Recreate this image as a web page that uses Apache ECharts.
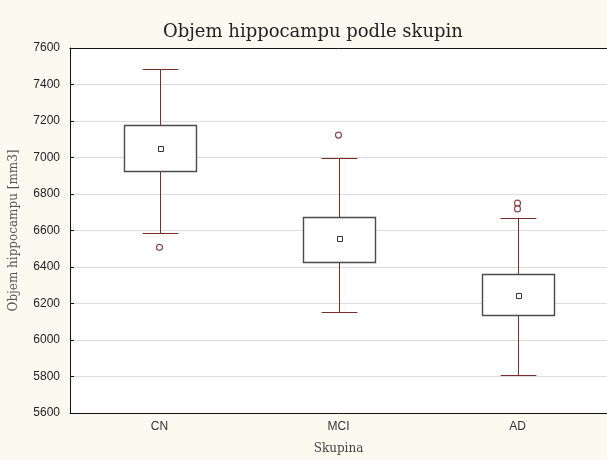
<!DOCTYPE html>
<html>
<head>
<meta charset="utf-8">
<script src="https://cdn.jsdelivr.net/npm/echarts@6/dist/echarts.min.js"></script>
<style>
  html, body { margin: 0; padding: 0; background: #fcf9f1; }
  #chart { width: 607px; height: 460px; }
</style>
</head>
<body>
<div id="chart"></div>
<script>
// Hippocampal volume per diagnostic group (mm3)
const categories = ['CN', 'MCI', 'AD'];
const whiskerLow = [6585, 6155, 5808];
const quartile1 = [6924, 6430, 6135];
const medians = [7045, 6556, 6242];
const quartile3 = [7178, 6674, 6360];
const whiskerHigh = [7486, 6998, 6670];
// outliers as [group index, value]
const outlierGroup = [0, 1, 2, 2];
const outlierValue = [6508, 7123, 6750, 6718];
const yTicks = [5600, 5800, 6000, 6200, 6400, 6600, 6800, 7000, 7200, 7400, 7600];

const boxData = categories.map((c, i) =>
  [i, whiskerLow[i], quartile1[i], medians[i], quartile3[i], whiskerHigh[i]]);
const outlierData = outlierGroup.map((g, i) => [g, outlierValue[i]]);

const boxColor = '#4a4a4a';
const whiskerColor = '#7a2b2b';

function renderBox(params, api) {
  const idx = api.value(0);
  const band = api.size([1, 0])[0];
  const boxW = band * 0.405;
  const capW = band * 0.2;
  const pLow = api.coord([idx, api.value(1)]);
  const pQ1 = api.coord([idx, api.value(2)]);
  const pMed = api.coord([idx, api.value(3)]);
  const pQ3 = api.coord([idx, api.value(4)]);
  const pHigh = api.coord([idx, api.value(5)]);
  const x = Math.round(pMed[0]) + 0.5;
  const wStyle = { stroke: whiskerColor, lineWidth: 1, fill: null };
  const yHi = Math.round(pHigh[1]) + 0.5;
  const yLo = Math.round(pLow[1]) + 0.5;
  return {
    type: 'group',
    children: [
      { type: 'line', shape: { x1: x, y1: yHi, x2: x, y2: pQ3[1] }, style: wStyle },
      { type: 'line', shape: { x1: x, y1: pQ1[1], x2: x, y2: yLo }, style: wStyle },
      { type: 'line', shape: { x1: x - capW / 2, y1: yHi, x2: x + capW / 2, y2: yHi }, style: wStyle },
      { type: 'line', shape: { x1: x - capW / 2, y1: yLo, x2: x + capW / 2, y2: yLo }, style: wStyle },
      {
        type: 'rect',
        shape: {
          x: Math.round(x - boxW / 2) + 0.5,
          y: Math.round(pQ3[1]) + 0.5,
          width: Math.round(boxW),
          height: Math.round(pQ1[1] - pQ3[1])
        },
        style: { stroke: boxColor, lineWidth: 1.4, fill: '#ffffff' }
      },
      {
        type: 'rect',
        shape: { x: Math.round(x - 3) + 0.5, y: Math.round(pMed[1] - 3) + 0.5, width: 5, height: 5 },
        style: { stroke: '#333333', lineWidth: 1, fill: '#ffffff' }
      }
    ]
  };
}

const chart = echarts.init(document.getElementById('chart'), null, { renderer: 'canvas' });
chart.setOption({
  backgroundColor: '#fcf9f1',
  animation: false,
  title: {
    text: 'Objem hippocampu podle skupin',
    left: 158,
    top: 18,
    textStyle: { fontFamily: 'DejaVu Serif', fontSize: 18, fontWeight: 'normal', color: '#222' }
  },
  grid: {
    left: 68, right: 0, top: 48, bottom: 44,
    show: true, backgroundColor: '#ffffff', borderWidth: 0
  },
  xAxis: [{
    type: 'category',
    data: categories,
    name: 'Skupina',
    nameLocation: 'middle',
    nameGap: 30,
    nameTextStyle: { fontFamily: 'DejaVu Serif', fontSize: 12, color: '#444' },
    axisLine: { lineStyle: { color: '#111' } },
    axisTick: { inside: true, alignWithLabel: true, length: 4, lineStyle: { color: '#111' } },
    axisLabel: { fontFamily: 'Liberation Sans', fontSize: 12, color: '#333', margin: 8 }
  }, {
    type: 'category',
    data: categories,
    position: 'top',
    axisLine: { lineStyle: { color: '#111' } },
    axisTick: { inside: true, alignWithLabel: true, length: 4, lineStyle: { color: '#111' } },
    axisLabel: { show: false }
  }],
  yAxis: [{
    type: 'value',
    min: yTicks[0],
    max: yTicks[yTicks.length - 1],
    interval: 200,
    name: 'Objem hippocampu [mm3]',
    nameLocation: 'middle',
    nameGap: 50,
    nameTextStyle: { fontFamily: 'DejaVu Serif', fontSize: 12, color: '#555' },
    axisLine: { show: true, lineStyle: { color: '#111' } },
    axisTick: { show: true, inside: true, length: 4, lineStyle: { color: '#111' } },
    axisLabel: {
      fontFamily: 'Liberation Sans', fontSize: 12, color: '#222', margin: 10,
      formatter: v => String(v)
    },
    splitLine: { lineStyle: { color: '#dcdcdc', width: 1 } }
  }],
  series: [{
    type: 'custom',
    renderItem: renderBox,
    encode: { x: 0, y: [1, 2, 3, 4, 5] },
    data: boxData,
    z: 3
  }, {
    type: 'scatter',
    data: outlierData,
    symbol: 'circle',
    symbolSize: 6,
    itemStyle: { color: '#ffffff', borderColor: '#6e1c1c', borderWidth: 1.2 },
    z: 4
  }]
});
</script>
</body>
</html>
